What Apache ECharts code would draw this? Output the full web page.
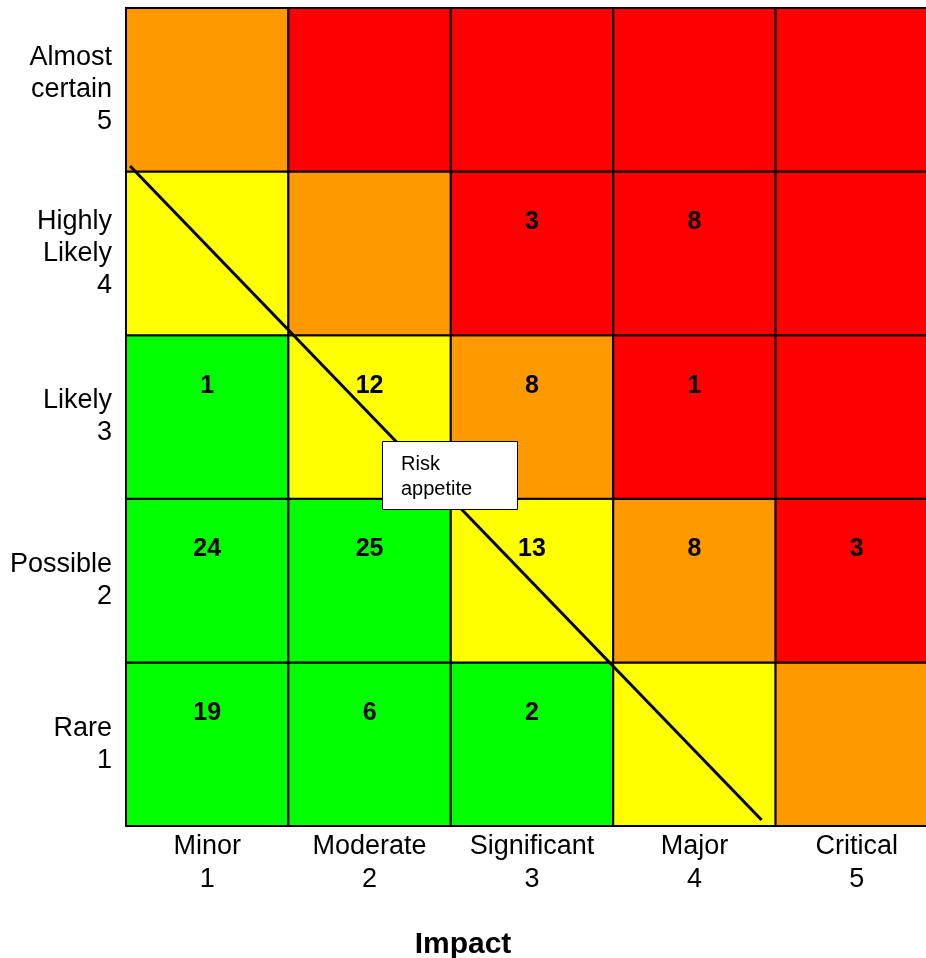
<!DOCTYPE html>
<html>
<head>
<meta charset="utf-8">
<script src="https://cdn.jsdelivr.net/npm/echarts@6/dist/echarts.min.js"></script>
<style>html,body{margin:0;padding:0;background:#fff}#c{width:926px;height:958px}</style>
</head>
<body>
<div id="c"></div>
<script>
// Impact (x) and likelihood (y) category labels
var impactLabels = ['Minor\n1', 'Moderate\n2', 'Significant\n3', 'Major\n4', 'Critical\n5'];
var likelihoodLabels = ['Rare\n1', 'Possible\n2', 'Likely\n3', 'Highly\nLikely\n4', 'Almost\ncertain\n5'];

// Zone of each cell, rows by likelihood 1..5, columns by impact 1..5
var zoneRare      = ['green', 'green', 'green', 'yellow', 'orange'];
var zonePossible  = ['green', 'green', 'yellow', 'orange', 'red'];
var zoneLikely    = ['green', 'yellow', 'orange', 'red', 'red'];
var zoneHighly    = ['yellow', 'orange', 'red', 'red', 'red'];
var zoneAlmost    = ['orange', 'red', 'red', 'red', 'red'];

// Number of risks per cell (null = empty)
var countRare     = [19, 6, 2, null, null];
var countPossible = [24, 25, 13, 8, 3];
var countLikely   = [1, 12, 8, 1, null];
var countHighly   = [null, null, 3, 8, null];
var countAlmost   = [null, null, null, null, null];

// Risk appetite line endpoints (impact, likelihood in cell units from grid corner)
var appetiteLine = [[0.025, 4.034], [3.914, 0.037]];

var zoneColors = { green: '#00FF00', yellow: '#FFFF00', orange: '#FF9900', red: '#FF0000' };

var zones = [zoneRare, zonePossible, zoneLikely, zoneHighly, zoneAlmost];
var counts = [countRare, countPossible, countLikely, countHighly, countAlmost];
var cells = [];
for (var l = 0; l < 5; l++) {
  for (var i = 0; i < 5; i++) {
    cells.push([i, l, counts[l][i] == null ? '' : counts[l][i], zones[l][i]]);
  }
}

var FONT = '"Liberation Sans", Arial, sans-serif';
var chart = echarts.init(document.getElementById('c'));
chart.setOption({
  animation: false,
  backgroundColor: '#fff',
  title: {
    text: 'Impact', left: 'center', top: 925,
    textStyle: { fontFamily: FONT, fontSize: 30, fontWeight: 'bold', color: '#000' }
  },
  grid: { left: 126, top: 8, width: 812, height: 818, containLabel: false, outerBoundsMode: 'none' },
  xAxis: [
    { type: 'category', data: impactLabels, gridIndex: 0,
      axisLine: { show: false }, axisTick: { show: false }, splitLine: { show: false },
      axisLabel: { interval: 0, hideOverlap: false, fontFamily: FONT, fontSize: 27, color: '#000', lineHeight: 33, margin: 4 } },
    { type: 'value', min: 0, max: 5, show: false, gridIndex: 0 }
  ],
  yAxis: [
    { type: 'category', data: likelihoodLabels, gridIndex: 0,
      axisLine: { show: false }, axisTick: { show: false }, splitLine: { show: false },
      axisLabel: { interval: 0, fontFamily: FONT, fontSize: 27, color: '#000', lineHeight: 32, margin: 14, align: 'right' } },
    { type: 'value', min: 0, max: 5, show: false, gridIndex: 0 }
  ],
  series: [
    {
      type: 'custom', xAxisIndex: 1, yAxisIndex: 1,
      data: cells,
      renderItem: function (params, api) {
        var x = api.value(0), y = api.value(1);
        var p0 = api.coord([x, y + 1]);
        var p1 = api.coord([x + 1, y]);
        var w = p1[0] - p0[0], h = p1[1] - p0[1];
        var zone = cells[params.dataIndex][3];
        var label = cells[params.dataIndex][2];
        return {
          type: 'group',
          children: [
            { type: 'rect', shape: { x: p0[0], y: p0[1], width: w, height: h },
              style: { fill: zoneColors[zone], stroke: '#000', lineWidth: 2 } },
            { type: 'text', style: { x: p0[0] + w / 2, y: p0[1] + h * 0.31, text: String(label),
              fill: '#000', font: 'bold 25px ' + FONT, align: 'center', verticalAlign: 'middle' } }
          ]
        };
      },
      z: 2
    },
    {
      type: 'line', xAxisIndex: 1, yAxisIndex: 1,
      data: appetiteLine, symbol: 'none',
      lineStyle: { color: '#000', width: 3 }, z: 3
    }
  ],
  graphic: [
    { type: 'rect', left: 382, top: 441, z: 100,
      shape: { width: 135, height: 68 },
      style: { fill: '#fff', stroke: '#000', lineWidth: 1 } },
    { type: 'text', left: 401, top: 452, z: 101,
      style: { text: 'Risk\nappetite', font: '20px ' + FONT, fill: '#000', lineHeight: 25 } }
  ]
});
</script>
</body>
</html>
